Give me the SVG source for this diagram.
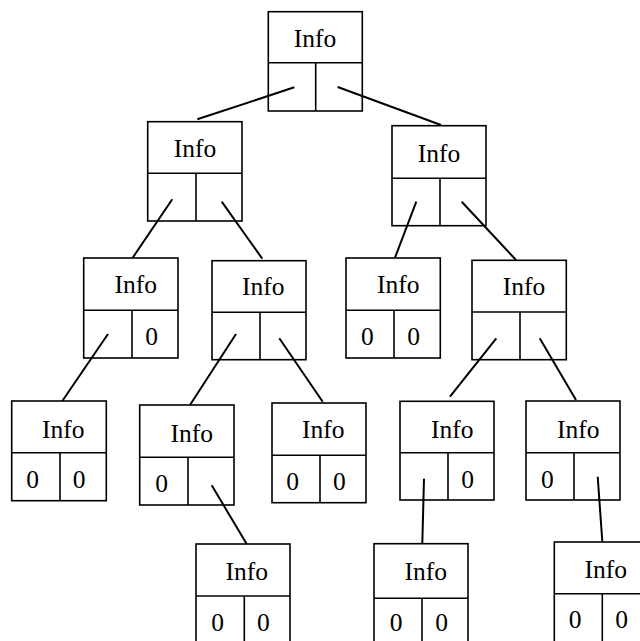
<svg xmlns="http://www.w3.org/2000/svg" width="640" height="641" viewBox="0 0 640 641">
<style>
.box{fill:#fff;stroke:#000;stroke-width:1.6}
.sep{stroke:#000;stroke-width:1.6}
text{font-family:'Liberation Serif','Times New Roman',Tinos,serif;font-size:25.5px;fill:#000;text-anchor:middle}
.c{stroke:#000;stroke-width:2;fill:none}
</style>
<rect width="640" height="641" fill="#fff"/>
<g id="root">
<rect class="box" x="268.3" y="11.7" width="94" height="99.3"/>
<line class="sep" x1="268.3" y1="62.7" x2="362.3" y2="62.7"/>
<line class="sep" x1="315.7" y1="62.7" x2="315.7" y2="111"/>
<text x="315" y="47">Info</text>
</g>
<g id="n-L">
<rect class="box" x="147.7" y="121.7" width="94.3" height="99.3"/>
<line class="sep" x1="147.7" y1="173.3" x2="242" y2="173.3"/>
<line class="sep" x1="196" y1="173.3" x2="196" y2="221"/>
<text x="195" y="157">Info</text>
</g>
<g id="n-R">
<rect class="box" x="392" y="125.7" width="94" height="100"/>
<line class="sep" x1="392" y1="178.3" x2="486" y2="178.3"/>
<line class="sep" x1="440" y1="178.3" x2="440" y2="225.7"/>
<text x="439" y="162">Info</text>
</g>
<g id="n-LL">
<rect class="box" x="83.7" y="258" width="94.3" height="100"/>
<line class="sep" x1="83.7" y1="310.3" x2="178" y2="310.3"/>
<line class="sep" x1="132" y1="310.3" x2="132" y2="358"/>
<text x="135.7" y="293">Info</text>
<text x="151.7" y="345">0</text>
</g>
<g id="n-LR">
<rect class="box" x="212" y="260.7" width="94" height="99"/>
<line class="sep" x1="212" y1="312.3" x2="306" y2="312.3"/>
<line class="sep" x1="260" y1="312.3" x2="260" y2="359.7"/>
<text x="263.3" y="294.5">Info</text>
</g>
<g id="n-RL">
<rect class="box" x="346" y="258" width="94.3" height="100"/>
<line class="sep" x1="346" y1="310.3" x2="440.3" y2="310.3"/>
<line class="sep" x1="394" y1="310.3" x2="394" y2="358"/>
<text x="398.3" y="292.5">Info</text>
<text x="367.3" y="345">0</text>
<text x="413.7" y="345">0</text>
</g>
<g id="n-RR">
<rect class="box" x="472" y="260.3" width="94.3" height="99.4"/>
<line class="sep" x1="472" y1="312" x2="566.3" y2="312"/>
<line class="sep" x1="520" y1="312" x2="520" y2="359.7"/>
<text x="524" y="294.5">Info</text>
</g>
<g id="n-LLL">
<rect class="box" x="11.7" y="401" width="94.6" height="99.7"/>
<line class="sep" x1="11.7" y1="452.7" x2="106.3" y2="452.7"/>
<line class="sep" x1="60" y1="452.7" x2="60" y2="500.7"/>
<text x="63.3" y="437.5">Info</text>
<text x="32.7" y="488">0</text>
<text x="79" y="488">0</text>
</g>
<g id="n-LRL">
<rect class="box" x="139.7" y="405" width="94.3" height="100"/>
<line class="sep" x1="139.7" y1="457.3" x2="234" y2="457.3"/>
<line class="sep" x1="188" y1="457.3" x2="188" y2="505"/>
<text x="191.7" y="441.5">Info</text>
<text x="161.7" y="492">0</text>
</g>
<g id="n-LRR">
<rect class="box" x="272" y="403" width="94" height="99.7"/>
<line class="sep" x1="272" y1="455.3" x2="366" y2="455.3"/>
<line class="sep" x1="320" y1="455.3" x2="320" y2="502.7"/>
<text x="323.3" y="437.5">Info</text>
<text x="292.7" y="490">0</text>
<text x="339.3" y="490">0</text>
</g>
<g id="n-RRL">
<rect class="box" x="400" y="401.3" width="94" height="98.7"/>
<line class="sep" x1="400" y1="452.7" x2="494" y2="452.7"/>
<line class="sep" x1="448" y1="452.7" x2="448" y2="500"/>
<text x="452.3" y="437.5">Info</text>
<text x="467.7" y="488">0</text>
</g>
<g id="n-RRR">
<rect class="box" x="526" y="401" width="94" height="99"/>
<line class="sep" x1="526" y1="452.7" x2="620" y2="452.7"/>
<line class="sep" x1="574" y1="452.7" x2="574" y2="500"/>
<text x="578.3" y="437.5">Info</text>
<text x="547.3" y="488">0</text>
</g>
<g id="n-LRLR">
<rect class="box" x="196" y="544" width="94" height="106"/>
<line class="sep" x1="196" y1="596" x2="290" y2="596"/>
<line class="sep" x1="244.3" y1="596" x2="244.3" y2="650"/>
<text x="246.7" y="579.5">Info</text>
<text x="217.7" y="630.5">0</text>
<text x="263.3" y="630.5">0</text>
</g>
<g id="n-RRLL">
<rect class="box" x="374" y="543.7" width="94" height="106"/>
<line class="sep" x1="374" y1="598.3" x2="468" y2="598.3"/>
<line class="sep" x1="422" y1="598.3" x2="422" y2="650"/>
<text x="425.7" y="579.5">Info</text>
<text x="396" y="630.5">0</text>
<text x="441.7" y="630.5">0</text>
</g>
<g id="n-RRRR">
<rect class="box" x="554.3" y="542" width="100" height="110"/>
<line class="sep" x1="554.3" y1="593.7" x2="654" y2="593.7"/>
<line class="sep" x1="602.3" y1="593.7" x2="602.3" y2="652"/>
<text x="605.7" y="577.5">Info</text>
<text x="575" y="628">0</text>
<text x="621.7" y="628">0</text>
</g>
<g id="connectors">
<line class="c" x1="294.3" y1="87.3" x2="197.3" y2="119.3"/>
<line class="c" x1="337.7" y1="87" x2="441" y2="125"/>
<line class="c" x1="172.3" y1="199.3" x2="132.7" y2="257.7"/>
<line class="c" x1="221.7" y1="201.7" x2="262.3" y2="258.7"/>
<line class="c" x1="416.3" y1="201.7" x2="395" y2="257.7"/>
<line class="c" x1="461.7" y1="201.7" x2="516" y2="260"/>
<line class="c" x1="108" y1="334" x2="62.3" y2="401"/>
<line class="c" x1="236" y1="334" x2="190" y2="405"/>
<line class="c" x1="279.3" y1="338.3" x2="322.7" y2="401.7"/>
<line class="c" x1="496.3" y1="338.3" x2="450" y2="396.7"/>
<line class="c" x1="539.7" y1="338.3" x2="576" y2="400"/>
<line class="c" x1="211.7" y1="485.3" x2="246.7" y2="544"/>
<line class="c" x1="424" y1="478.7" x2="422.3" y2="543.7"/>
<line class="c" x1="597.7" y1="476.7" x2="602.3" y2="541.3"/>
</g>
</svg>
